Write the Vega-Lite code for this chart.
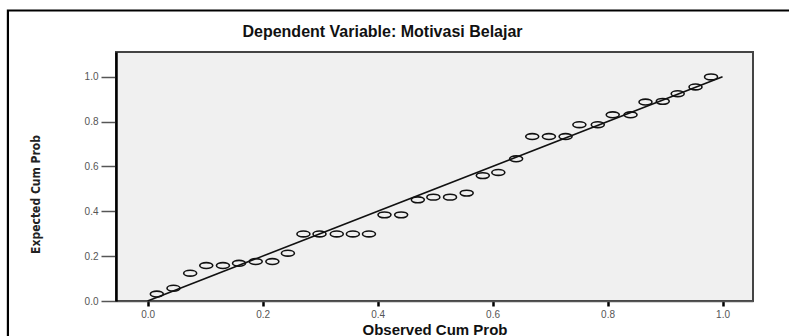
{
  "$schema": "https://vega.github.io/schema/vega-lite/v6.json",
  "width": 637,
  "height": 249,
  "autosize": {"type": "none"},
  "padding": {"left": 116, "top": 52, "right": 36, "bottom": 35},
  "background": "white",
  "title": {
    "text": "Dependent Variable: Motivasi Belajar",
    "frame": "group",
    "font": "Liberation Sans",
    "fontSize": 16,
    "fontWeight": "bold",
    "color": "#111111",
    "anchor": "middle",
    "dx": -52,
    "offset": 0,
    "dy": 44,
    "baseline": "alphabetic"
  },
  "config": {
    "view": {"fill": "#f0f0f0", "stroke": "#444444", "strokeWidth": 2}
  },
  "layer": [
    {
      "data": {"values": [{}]},
      "mark": {"type": "rect", "fillOpacity": 0, "stroke": "#000000", "strokeWidth": 2.2},
      "encoding": {
        "x": {"datum": -0.243, "type": "quantitative", "scale": {"domain": [-0.055, 1.053], "nice": false, "zero": false}},
        "x2": {"datum": 1.4},
        "y": {"datum": 1.295, "type": "quantitative", "scale": {"domain": [0, 1.11], "nice": false, "zero": false}},
        "y2": {"datum": -0.4}
      }
    },
    {
      "data": {"values": [{}]},
      "mark": {"type": "rule", "color": "#111111", "strokeWidth": 1.6},
      "encoding": {
        "x": {"datum": 0, "type": "quantitative", "scale": {"domain": [-0.055, 1.053], "nice": false, "zero": false}},
        "x2": {"datum": 1},
        "y": {"datum": 0, "type": "quantitative", "scale": {"domain": [0, 1.11], "nice": false, "zero": false}},
        "y2": {"datum": 1}
      }
    },
    {
      "data": {
        "values": [
          {"observed": 0.016, "expected": 0.031},
          {"observed": 0.045, "expected": 0.057},
          {"observed": 0.074, "expected": 0.124},
          {"observed": 0.102, "expected": 0.158},
          {"observed": 0.131, "expected": 0.158},
          {"observed": 0.159, "expected": 0.168},
          {"observed": 0.188, "expected": 0.176},
          {"observed": 0.217, "expected": 0.176},
          {"observed": 0.244, "expected": 0.213},
          {"observed": 0.271, "expected": 0.299},
          {"observed": 0.299, "expected": 0.299},
          {"observed": 0.329, "expected": 0.299},
          {"observed": 0.357, "expected": 0.299},
          {"observed": 0.385, "expected": 0.299},
          {"observed": 0.412, "expected": 0.384},
          {"observed": 0.441, "expected": 0.384},
          {"observed": 0.470, "expected": 0.451},
          {"observed": 0.497, "expected": 0.463},
          {"observed": 0.526, "expected": 0.463},
          {"observed": 0.555, "expected": 0.481},
          {"observed": 0.583, "expected": 0.559},
          {"observed": 0.610, "expected": 0.573},
          {"observed": 0.641, "expected": 0.634},
          {"observed": 0.669, "expected": 0.733},
          {"observed": 0.698, "expected": 0.733},
          {"observed": 0.727, "expected": 0.733},
          {"observed": 0.751, "expected": 0.786},
          {"observed": 0.783, "expected": 0.786},
          {"observed": 0.809, "expected": 0.830},
          {"observed": 0.840, "expected": 0.830},
          {"observed": 0.866, "expected": 0.887},
          {"observed": 0.896, "expected": 0.890},
          {"observed": 0.922, "expected": 0.924},
          {"observed": 0.953, "expected": 0.954},
          {"observed": 0.980, "expected": 0.999}
        ]
      },
      "mark": {
        "type": "point",
        "shape": "M -1 0 A 1 0.45 0 1 1 1 0 A 1 0.45 0 1 1 -1 0 Z",
        "size": 169,
        "filled": false,
        "stroke": "#111111",
        "strokeWidth": 1.6,
        "opacity": 1
      },
      "encoding": {
        "x": {
          "field": "observed",
          "type": "quantitative",
          "scale": {"domain": [-0.055, 1.053], "nice": false, "zero": false},
          "axis": {
            "title": "Observed Cum Prob",
            "values": [0, 0.2, 0.4, 0.6, 0.8, 1],
            "format": ".1f",
            "grid": false,
            "domainColor": "#555555",
            "domainWidth": 1.5,
            "tickColor": "#000000",
            "tickWidth": 2.5,
            "tickSize": 5,
            "labelFont": "Liberation Sans",
            "labelFontSize": 10,
            "labelColor": "#555555",
            "labelPadding": 3,
            "labelFlush": false,
            "titleFont": "Liberation Sans",
            "titleFontSize": 15,
            "titleFontWeight": "bold",
            "titleColor": "#111111",
            "titleY": 33,
            "titleBaseline": "alphabetic"
          }
        },
        "y": {
          "field": "expected",
          "type": "quantitative",
          "scale": {"domain": [0, 1.11], "nice": false, "zero": false},
          "axis": {
            "title": "Expected Cum Prob",
            "values": [0, 0.2, 0.4, 0.6, 0.8, 1],
            "format": ".1f",
            "grid": false,
            "domainColor": "#000000",
            "domainWidth": 2.5,
            "tickColor": "#555555",
            "tickWidth": 1.5,
            "tickSize": 15,
            "labelFont": "Liberation Sans",
            "labelFontSize": 10,
            "labelColor": "#555555",
            "labelPadding": 3,
            "labelFlush": false,
            "titleFont": "Liberation Sans Narrow, DejaVu Sans Condensed, Liberation Sans, sans-serif",
            "titleFontSize": 12,
            "titleFontWeight": "bold",
            "titleColor": "#222222",
            "titleX": -81,
            "titleY": 142,
            "titleAlign": "center",
            "titleBaseline": "middle",
            "titleAngle": -90
          }
        }
      }
    }
  ]
}
